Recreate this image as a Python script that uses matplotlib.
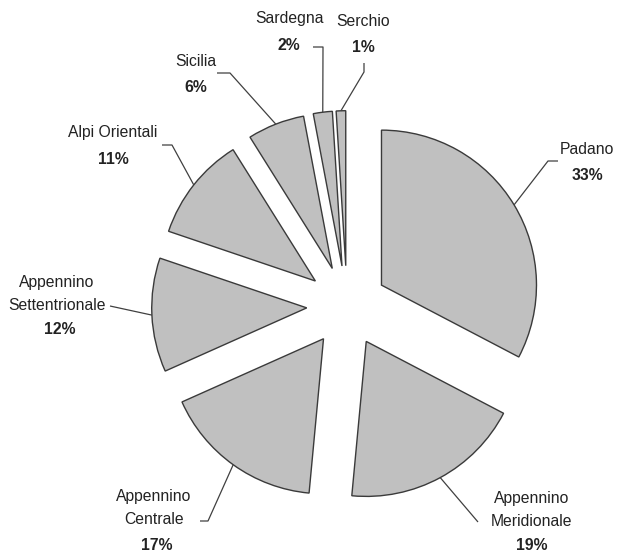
import matplotlib
matplotlib.use("Agg")
import matplotlib.pyplot as plt
import numpy as np

labels = ["Padano", "Appennino\nMeridionale", "Appennino\nCentrale",
          "Appennino\nSettentrionale", "Alpi Orientali", "Sicilia",
          "Sardegna", "Serchio"]
values = [33, 19, 17, 12, 11, 6, 2, 1]
pct_labels = ["33%", "19%", "17%", "12%", "11%", "6%", "2%", "1%"]

# layout (pixel positions of label text block centres, leader elbows & ends)
W, H = 619, 554
CX, CY, R = 347, 306, 155
name_pos = [(587, 149), (532, 510), (154, 508), (57, 294), (113, 133),
            (196, 62), (289, 18), (363, 22)]
pct_pos = [(587, 175), (532, 546), (157, 545), (60, 330), (113, 160),
           (196, 87), (289, 45), (363, 48)]
elbows = [[(548, 161), (558, 161)],
          [(478, 522)],
          [(208, 521), (200, 521)],
          [(110, 306)],
          [(172, 145), (162, 145)],
          [(230, 73), (217, 73)],
          [(323, 47), (313, 47)],
          [(364, 72), (364, 63)]]

plt.rcParams['font.family'] = ['Liberation Sans', 'DejaVu Sans']

fig = plt.figure(figsize=(W / 100, H / 100), dpi=100)
ax = fig.add_axes([0, 0, 1, 1])
wedges, _ = ax.pie(values, startangle=90, counterclock=False,
                   explode=[0.26] * len(values), radius=1,
                   wedgeprops=dict(facecolor="#c0c0c0", edgecolor="#3a3a3a",
                                   linewidth=1.0))
ax.set_xlim(-CX / R, (W - CX) / R)
ax.set_ylim(-(H - CY) / R, CY / R)
ax.set_aspect("equal")
ax.axis("off")


def px2d(p):
    return ((p[0] - CX) / R, (CY - p[1]) / R)


for w, name, pct, npos, ppos, elb in zip(wedges, labels, pct_labels,
                                         name_pos, pct_pos, elbows):
    ang = np.deg2rad((w.theta1 + w.theta2) / 2)
    cx, cy = w.center
    start = (cx + w.r * np.cos(ang), cy + w.r * np.sin(ang))
    pts = [start] + [px2d(e) for e in elb]
    xs, ys = zip(*pts)
    ax.plot(xs, ys, color="#404040", lw=0.9, solid_capstyle="butt")
    nx, ny = px2d(npos)
    ax.text(nx, ny, name, ha="center", va="center", fontsize=11.3,
            color="#222222", linespacing=1.7)
    qx, qy = px2d(ppos)
    ax.text(qx, qy, pct, ha="center", va="center", fontsize=11.3,
            fontweight="bold", color="#222222")

fig.savefig("out.png", dpi=100, facecolor="white")
